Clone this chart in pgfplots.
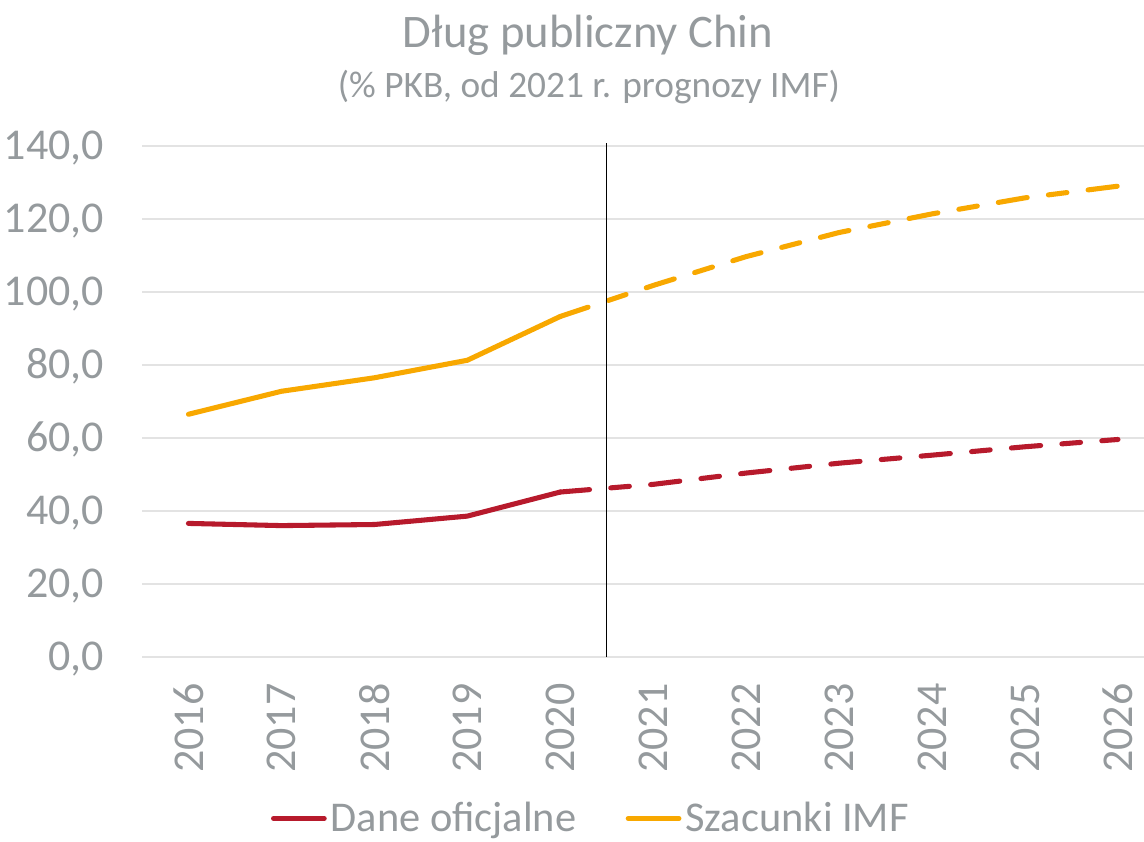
\documentclass[border=0pt]{standalone}
\usepackage{fontspec}
\setmainfont{Carlito}
\usepackage{pgfplots}
\pgfplotsset{compat=1.18}
\definecolor{txtgray}{HTML}{959A9D}
\definecolor{gridgray}{HTML}{E3E3E3}
\definecolor{oficred}{HTML}{B71A2C}
\definecolor{imforange}{HTML}{F8A800}

\begin{document}
\begin{tikzpicture}
% page = 1144x841 px at 0.375pt/px
\path[use as bounding box] (-53.25pt,-69pt) rectangle (375.75pt,246.375pt);
\begin{axis}[
  at={(0pt,0pt)}, anchor=south west,
  scale only axis,
  width=375.75pt, height=191.625pt,
  xmin=2015.5, xmax=2026.28,
  ymin=0, ymax=140,
  clip=false,
  axis line style={draw=none},
  major tick length=0pt,
  xtick={2016,...,2026},
  ytick={0,20,...,140},
  ymajorgrids,
  grid style={gridgray, line width=0.6pt},
  /pgf/number format/assume math mode=true,
  xticklabel={\pgfmathprintnumber[1000 sep={}]{\tick}},
  yticklabel={\pgfmathprintnumber[fixed,fixed zerofill,precision=1,use comma]{\tick}},
  ticklabel style={font=\fontsize{16.5}{18}\selectfont, text=txtgray, inner sep=0pt},
  xticklabel style={rotate=90, anchor=east},
  yticklabel style={anchor=base east, yshift=-5.2pt},
  xticklabel shift=9.75pt,
  yticklabel shift=14pt,
  legend columns=2,
  legend style={at={(0.449,-0.316)}, anchor=center, draw=none,
    font=\fontsize{15.9}{17}\selectfont, text=txtgray,
    column sep=0pt,
    nodes={inner sep=1.5pt},
    /tikz/every even column/.append style={column sep=17pt}},
  legend image code/.code={\draw[#1, solid] (0pt,0pt) -- (19pt,0pt);},
  every axis plot/.append style={line width=1.9pt, line cap=round, line join=round},
]
% official data, solid up to 2020
\addplot[oficred] coordinates {
  (2016,36.6) (2017,36.0) (2018,36.3) (2019,38.6) (2020,45.2)
};
\addlegendentry{Dane oficjalne}
% IMF estimates, solid up to 2020
\addplot[imforange] coordinates {
  (2016,66.5) (2017,72.8) (2018,76.5) (2019,81.3) (2020,93.3)
};
\addlegendentry{Szacunki IMF}
% forecasts from 2021
\addplot[oficred, dash pattern=on 11pt off 8pt on 7pt off 8pt, forget plot] coordinates {
  (2020,45.2) (2021,47.3) (2022,50.4) (2023,53.1) (2024,55.3) (2025,57.6) (2026,59.6)
};
\addplot[imforange, dash pattern=on 11pt off 8pt on 7pt off 8pt, forget plot] coordinates {
  (2020,93.3) (2021,101.8) (2022,109.7) (2023,116.3) (2024,121.4) (2025,125.8) (2026,129.0)
};
% separator between data and forecast
\addplot[black, line width=0.5pt, line cap=butt, forget plot] coordinates {(2020.5,0) (2020.5,140.8)};
\end{axis}
\node[anchor=base, text=txtgray, font=\fontsize{17.5}{20}\selectfont] at (167.25pt,228.7pt) {Dług publiczny Chin};
\node[anchor=base, text=txtgray, font=\fontsize{14}{16}\selectfont] at (167.6pt,210pt) {(\% PKB, od 2021 r. prognozy IMF)};
\end{tikzpicture}
\end{document}
